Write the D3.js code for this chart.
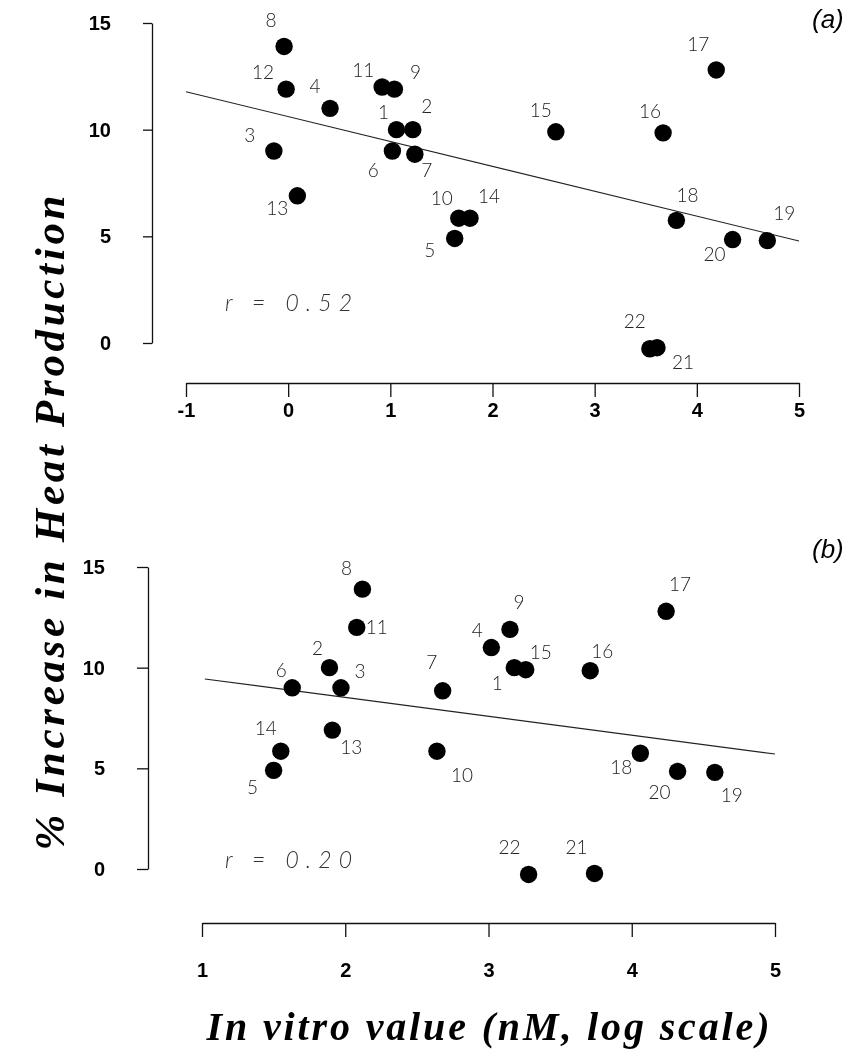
<!DOCTYPE html>
<html>
<head>
<meta charset="utf-8">
<script src="https://cdn.jsdelivr.net/npm/d3@7"></script>
<style>
  body { margin: 0; background: #fff; }
  svg { display: block; will-change: transform; }
</style>
</head>
<body>
<div id="chart"></div>
<script>
// page constants
const WIDTH = 855;
const HEIGHT = 1050;

// compound numbers 1..22
const compounds = d3.range(1, 23);

// % increase in heat production (same for both panels)
const heat = [10, 10, 9, 11, 4.9, 9, 8.85, 13.9, 11.9, 5.85, 12, 11.9, 6.9, 5.85,
              9.9, 9.85, 12.8, 5.75, 4.8, 4.85, -0.22, -0.27];

// in vitro values, panel (a) and (b) (log scale); compound 12 missing in (b)
const vitroA = [1.06, 1.22, -0.14, 0.41, 1.63, 1.02, 1.24, -0.04, 1.04, 1.67, 0.92,
                -0.02, 0.09, 1.78, 2.62, 3.67, 4.19, 3.80, 4.69, 4.35, 3.61, 3.54];
const vitroB = [3.18, 1.89, 1.97, 3.02, 1.50, 1.63, 2.68, 2.12, 3.15, 2.64, 2.08,
                null, 1.91, 1.55, 3.26, 3.71, 4.24, 4.06, 4.58, 4.32, 3.74, 3.28];

// fitted lines (end points)
const fitA = { x: [-1, 5], y: [11.78, 4.78] };
const fitB = { x: [1.02, 5], y: [9.44, 5.71] };

const rA = "r = 0.52";
const rB = "r = 0.20";

// tick labels
const yTicks = [0, 5, 10, 15];
const xTicksA = [-1, 0, 1, 2, 3, 4, 5];
const xTicksB = [1, 2, 3, 4, 5];

// label offsets (px) from each dot, compound 1..22
const labelOffA = [[-13,-18],[14,-24],[-24,-16],[-15,-22],[-25,12],[-19,19],[12,16],[-13,-26],
                   [21,-17],[-17,-20],[-19,-17],[-23,-17],[-20,12],[19,-22],[-15,-22],[-13,-22],
                   [-18,-26],[11,-25],[17,-27],[-18,15],[26,14],[-15,-28]];
const labelOffB = [[-17,15],[-12,-20],[19,-17],[-14,-17],[-21,17],[-11,-18],[-11,-29],[-16,-21],
                   [9,-27],[25,24],[20,0],null,[19,17],[-15,-23],[15,-18],[12,-20],
                   [14,-27],[-19,14],[17,23],[-18,21],[-18,-26],[-19,-27]];

const svg = d3.select("#chart")
  .append("svg")
  .attr("width", WIDTH)
  .attr("height", HEIGHT);

function styleTicks(g) {
  g.selectAll("text")
    .style("font-family", "Liberation Sans, Arial, sans-serif")
    .style("font-weight", "bold")
    .style("font-size", "20px")
    .attr("fill", "#000");
  g.selectAll(".domain, .tick line").attr("stroke", "#111").attr("stroke-width", 1.3);
}

function panel(cfg) {
  const xScale = d3.scaleLinear().domain(cfg.xDomain).range(cfg.xRange);
  const yScale = d3.scaleLinear().domain([0, 15]).range(cfg.yRange);

  // y axis
  svg.append("g")
    .attr("transform", `translate(${cfg.yAxisX},0)`)
    .call(d3.axisLeft(yScale).tickValues(yTicks).tickSize(cfg.yTickSize)
      .tickPadding(cfg.yPad).tickSizeOuter(0))
    .call(styleTicks);

  // x axis
  svg.append("g")
    .attr("transform", `translate(0,${cfg.xAxisY})`)
    .call(d3.axisBottom(xScale).tickValues(cfg.xTicks).tickSize(14)
      .tickPadding(cfg.xPad).tickSizeOuter(0).tickFormat(d => d < 0 ? "-" + (-d) : d))
    .call(styleTicks);

  // regression line
  svg.append("line")
    .attr("x1", xScale(cfg.fit.x[0])).attr("y1", yScale(cfg.fit.y[0]))
    .attr("x2", xScale(cfg.fit.x[1])).attr("y2", yScale(cfg.fit.y[1]))
    .attr("stroke", "#222").attr("stroke-width", 1.1);

  const pts = compounds.map((c, i) => ({ id: c, x: cfg.vitro[i], y: heat[i], off: cfg.offsets[i] }))
    .filter(d => d.x != null);

  svg.append("g").selectAll("circle")
    .data(pts).enter().append("circle")
    .attr("cx", d => xScale(d.x))
    .attr("cy", d => yScale(d.y))
    .attr("r", 8.7)
    .attr("fill", "#000");

  svg.append("g").selectAll("text")
    .data(pts).enter().append("text")
    .attr("x", d => xScale(d.x) + d.off[0])
    .attr("y", d => yScale(d.y) + d.off[1])
    .attr("dy", "0.36em")
    .attr("text-anchor", "middle")
    .style("font-family", "Lato, Liberation Sans, sans-serif")
    .style("font-weight", 300)
    .style("font-size", "19px")
    .attr("fill", "#222")
    .text(d => d.id);

  // correlation text
  svg.append("text")
    .attr("x", 225).attr("y", cfg.rY)
    .attr("textLength", 127).attr("lengthAdjust", "spacing")
    .style("font-family", "Lato, Liberation Sans, sans-serif")
    .style("font-weight", 300)
    .style("font-style", "italic")
    .style("font-size", "23px")
    .attr("fill", "#333")
    .text(cfg.r);

  // panel letter
  svg.append("text")
    .attr("x", 812).attr("y", cfg.letterY)
    .style("font-family", "Liberation Sans, Arial, sans-serif")
    .style("font-style", "italic")
    .style("font-size", "26px")
    .attr("fill", "#000")
    .text(cfg.letter);
}

panel({ xDomain: [-1, 5], xRange: [186, 799], yRange: [343, 23], yAxisX: 152, yTickSize: 9,
        yPad: 32, xAxisY: 383, xTicks: xTicksA, xPad: 6, vitro: vitroA, fit: fitA,
        offsets: labelOffA, r: rA, rY: 311, letter: "(a)", letterY: 28 });
panel({ xDomain: [1, 5], xRange: [202, 775], yRange: [869, 567], yAxisX: 148, yTickSize: 11,
        yPad: 32, xAxisY: 923, xTicks: xTicksB, xPad: 26, vitro: vitroB, fit: fitB,
        offsets: labelOffB, r: rB, rY: 868, letter: "(b)", letterY: 558 });

// axis titles
svg.append("text")
  .attr("transform", "translate(64,523) rotate(-90)")
  .attr("text-anchor", "middle")
  .attr("textLength", 655).attr("lengthAdjust", "spacing")
  .style("font-family", "Liberation Serif, Times New Roman, serif")
  .style("font-weight", "bold")
  .style("font-style", "italic")
  .style("font-size", "43px")
  .text("% Increase in Heat Production");

svg.append("text")
  .attr("x", 488).attr("y", 1040)
  .attr("text-anchor", "middle")
  .attr("textLength", 563).attr("lengthAdjust", "spacing")
  .style("font-family", "Liberation Serif, Times New Roman, serif")
  .style("font-weight", "bold")
  .style("font-style", "italic")
  .style("font-size", "40px")
  .text("In vitro value (nM, log scale)");
</script>
</body>
</html>
